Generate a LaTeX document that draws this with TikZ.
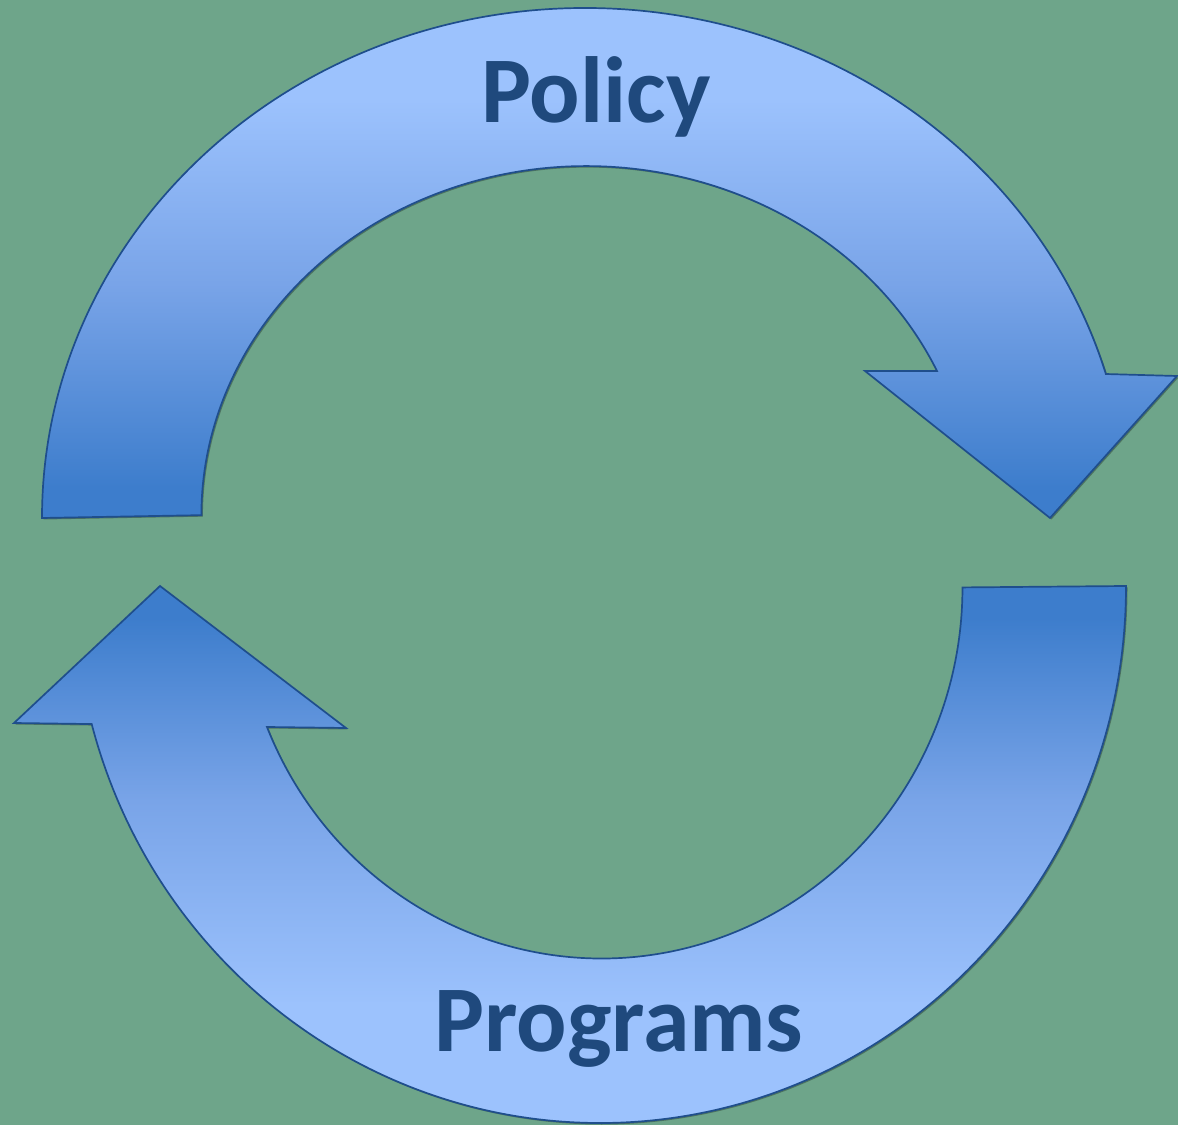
\documentclass[tikz,border=0pt]{standalone}
\usepackage{fontspec}
\setmainfont{Carlito}
\usetikzlibrary{shadows}
\definecolor{bg}{HTML}{6EA58A}
\definecolor{lt}{HTML}{9CC2FD}
\definecolor{md}{HTML}{79A4E8}
\definecolor{dk}{HTML}{3D7DCC}
\definecolor{edge}{HTML}{1F4E8C}
\definecolor{txt}{HTML}{1F497D}
\pgfdeclareverticalshading{topgrad}{100bp}{color(0bp)=(dk); color(28bp)=(dk); color(48bp)=(md); color(66bp)=(lt); color(100bp)=(lt)}
\pgfdeclareverticalshading{botgrad}{100bp}{color(0bp)=(lt); color(36bp)=(lt); color(55bp)=(md); color(72bp)=(dk); color(100bp)=(dk)}
\tikzset{
  arrowshape/.style={draw=edge, line width=1.7pt, line join=miter,
    drop shadow={shadow xshift=1.5pt, shadow yshift=-1.5pt, opacity=0.3, fill=black}},
  label/.style={font=\fontsize{94}{100}\selectfont\bfseries, text=txt, anchor=base, inner sep=0pt}
}
\begin{document}
\begin{tikzpicture}[x=1pt,y=1pt]
\fill[bg] (0,0) rectangle (1178,1125);
\useasboundingbox (0,0) rectangle (1178,1125);
% top arrow (Policy)
\path[arrowshape, shading=topgrad]
  (42,607) arc[start angle=180, end angle=16.4, x radius=543, y radius=510]
  -- (1177,749) -- (1050,607) -- (865,754) -- (937,754)
  arc[start angle=24.4, end angle=180, x radius=385, y radius=349] -- cycle;
% bottom arrow (Programs)
\path[arrowshape, shading=botgrad]
  (1126,539) arc[start angle=0, end angle=-165.1, x radius=526, y radius=537]
  -- (14,402) -- (160,539) -- (346,397) -- (267,398)
  arc[start angle=-157.9, end angle=0, x radius=361, y radius=371] -- cycle;
\node[label] (policy) at (596,1002) {Policy};
\node[label] (programs) at (619,74) {Programs};
\end{tikzpicture}
\end{document}
